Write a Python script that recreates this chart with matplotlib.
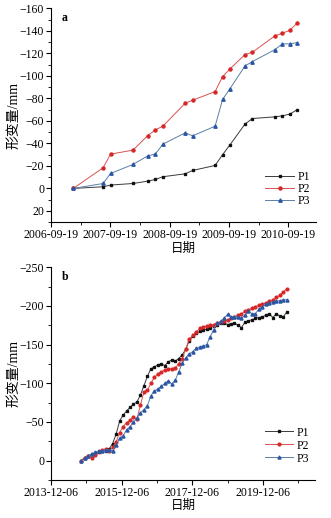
import matplotlib
matplotlib.use('Agg')
import matplotlib.pyplot as plt
import matplotlib.dates as mdates
import numpy as np
import pandas as pd
from matplotlib.ticker import FixedLocator, MultipleLocator

plt.rcParams['font.family'] = ['Liberation Serif', 'Noto Sans CJK SC']
plt.rcParams['axes.unicode_minus'] = True

# panel a: ALOS acquisitions
dates_a = ['2007-02-03', '2007-08-06', '2007-09-21', '2008-02-06', '2008-05-08',
           '2008-06-23', '2008-08-08', '2008-12-24', '2009-02-08', '2009-06-26',
           '2009-08-11', '2009-09-26', '2009-12-27', '2010-02-11', '2010-06-29',
           '2010-08-14', '2010-09-29', '2010-11-14']
a_p1 = [0, -1.5, -3, -4.4, -6.5, -8, -10.4, -13, -16, -20.4,
        -30, -38.8, -57.2, -62.1, -63.6, -64.5, -66, -70]
a_p2 = [0, -18.3, -30.5, -34, -47, -52, -55.3, -75.7, -78.4, -86,
        -99.4, -106.2, -118.9, -121, -135.5, -137.8, -140.5, -147]
a_p3 = [0, -4.4, -13.3, -21.3, -29, -30.5, -39.3, -49.4, -46.7, -55.3,
        -79, -88.7, -108.8, -112.7, -123.3, -128.4, -128.4, -129.5]
ticks_a = ['2006-09-19', '2007-09-19', '2008-09-19', '2009-09-19', '2010-09-19']

# panel b: Sentinel-1 acquisitions
dates_b = ['2014-10-15', '2014-11-20', '2014-12-26', '2015-01-31', '2015-03-08',
           '2015-04-13', '2015-05-19', '2015-06-24', '2015-07-30', '2015-09-04',
           '2015-10-10', '2015-11-15', '2015-12-21', '2016-01-26', '2016-03-02',
           '2016-04-07', '2016-05-13', '2016-06-18', '2016-07-24', '2016-08-29',
           '2016-10-04', '2016-11-09', '2016-12-15', '2017-01-20', '2017-02-25',
           '2017-04-02', '2017-05-08', '2017-06-13', '2017-07-19', '2017-08-24',
           '2017-09-29', '2017-11-04', '2017-12-10', '2018-01-15', '2018-02-20',
           '2018-03-28', '2018-05-03', '2018-06-08', '2018-07-14', '2018-08-19',
           '2018-09-24', '2018-10-30', '2018-12-05', '2019-01-10', '2019-02-15',
           '2019-03-23', '2019-04-28', '2019-06-03', '2019-07-09', '2019-08-14',
           '2019-09-19', '2019-10-25', '2019-11-30', '2020-01-05', '2020-02-10',
           '2020-03-17', '2020-04-22', '2020-05-28', '2020-07-03', '2020-08-08']
b_p1 = [0, -4, -6.5, -8, -10, -12, -13, -13, -15, -22,
        -34, -51, -59, -64, -69, -73, -76, -85, -97, -109,
        -119, -121, -124, -125, -123, -128, -130, -129, -132, -137,
        -144, -155, -161, -165, -167, -169, -170, -172, -174, -176,
        -178, -178, -176, -177, -178, -175, -172, -179, -181, -182,
        -184, -185, -186, -188, -190, -185, -190, -187, -186, -192]
b_p2 = [0, -4, -6, -4, -7, -11, -14, -15, -13, -17,
        -24, -36, -44, -49, -52, -56, -54, -72, -89, -91,
        -100, -108, -112, -115, -117, -118, -119, -120, -125, -132,
        -144, -157, -162, -166, -171, -173, -174, -175, -176, -178,
        -179, -180, -182, -184, -186, -188, -190, -193, -195, -197,
        -199, -201, -202, -204, -206, -208, -211, -214, -218, -222]
b_p3 = [0, -3, -6, -8, -11, -12, -13, -14, -14, -13,
        -20, -29, -32, -40, -44, -50, -55, -62, -66, -71,
        -84, -90, -93, -96, -100, -103, -99, -104, -115, -126,
        -133, -138, -141, -145, -147, -148, -150, -160, -169, -178,
        -180, -184, -189, -186, -186, -186, -184, -188, -193, -190,
        -190, -196, -199, -202, -204, -205, -206, -207, -208, -208]
ticks_b = ['2013-12-06', '2015-12-06', '2017-12-06', '2019-12-06']

names = ['P1', 'P2', 'P3']
line_colors = ['#3a3a3a', '#d9534f', '#5b7fa6']
marker_colors = ['#111111', '#d62728', '#2a56a5']
markers = ['s', 'o', '^']
marker_scale = [0.8, 1.0, 1.1]


def draw(ax, dates, series, ticks, xlim, ylim, yticks, minor_y, letter, msize, legend_y, legend_sp):
    x = pd.to_datetime(dates)
    for s, name, lc, mc, mk, sc in zip(series, names, line_colors, marker_colors, markers, marker_scale):
        ax.plot(x, s, color=lc, lw=0.7, marker=mk, markersize=msize * sc,
                markerfacecolor=mc, markeredgecolor=mc, label=name)
    tk = pd.to_datetime(ticks)
    ax.xaxis.set_major_locator(FixedLocator(mdates.date2num(tk)))
    ax.set_xticklabels(ticks)
    mid = mdates.date2num(tk)
    step = mid[1] - mid[0]
    ax.xaxis.set_minor_locator(FixedLocator(mid + step / 2))
    ax.set_xlim(pd.to_datetime(xlim[0]), pd.to_datetime(xlim[1]))
    ax.set_ylim(ylim)
    ax.set_yticks(yticks)
    ax.yaxis.set_minor_locator(MultipleLocator(minor_y))
    for sp in ['top', 'right']:
        ax.spines[sp].set_visible(False)
    ax.tick_params(which='major', direction='out', length=3.5, width=0.8, labelsize=8.5, pad=1.5)
    ax.tick_params(which='minor', direction='out', length=2, width=0.6)
    ax.set_ylabel('形变量/mm', fontsize=10)
    ax.yaxis.set_label_coords(-0.117, 0.5)
    ax.set_xlabel('日期', fontsize=9, labelpad=1)
    ax.text(0.04, 0.955, letter, transform=ax.transAxes, fontsize=8.5, fontweight='bold', va='center')
    ax.legend(loc='lower right', bbox_to_anchor=(1.0, legend_y), frameon=False, fontsize=8.5,
              handlelength=2.4, handletextpad=0.3, labelspacing=legend_sp, borderpad=0)


fig = plt.figure(figsize=(3.31, 5.18), dpi=100)
ax1 = fig.add_axes([0.154, 0.571, 0.80, 0.413])
ax2 = fig.add_axes([0.154, 0.0734, 0.797, 0.4106])

draw(ax1, dates_a, [a_p1, a_p2, a_p3], ticks_a, ('2006-09-19', '2011-03-08'),
     (30, -160), np.arange(-160, 21, 20), 10, 'a', 2.2, 0.045, 0.0)
draw(ax2, dates_b, [b_p1, b_p2, b_p3], ticks_b, ('2013-12-06', '2021-05-25'),
     (25, -250), np.arange(-250, 1, 50), 25, 'b', 2.0, 0.045, 0.08)

fig.savefig('out.png', dpi=100)
